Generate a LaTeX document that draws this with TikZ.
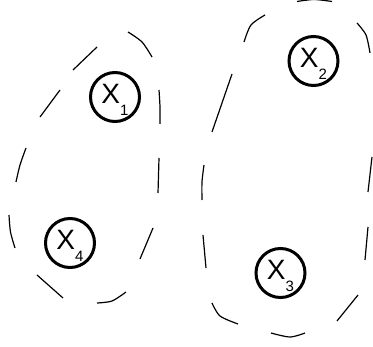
\documentclass[tikz,border=0pt]{standalone}
\usepackage{fontspec}
\setmainfont{Liberation Sans}
\newcommand\xsub[1]{\raisebox{-12pt}[0pt][0pt]{\fontsize{15}{15}\selectfont #1}}
\begin{document}
\begin{tikzpicture}[x=1pt,y=-1pt,
  var/.style={circle,draw,line width=3pt,minimum size=49pt,inner sep=0pt,
    text height=14pt,text depth=0pt,font=\fontsize{28}{28}\selectfont},
  blob/.style={line width=1.2pt}]
\useasboundingbox (0,0) rectangle (373,347);
\clip (0,0) rectangle (373,347);
% variables
\node[var] (x1) at (115,97) {X\xsub{1}};
\node[var] (x2) at (313.5,61) {X\xsub{2}};
\node[var] (x3) at (280.5,273) {X\xsub{3}};
\node[var] (x4) at (70,243) {X\xsub{4}};
% left dashed blob (X1, X4)
\draw[blob] (73,70) -- (97,47);
\draw[blob] plot[smooth] coordinates {(128,32) (142,42) (152,57)};
\draw[blob] (60,90) -- (40,117);
\draw[blob] plot[smooth] coordinates {(159,90) (160,107) (160,124)};
\draw[blob] plot[smooth] coordinates {(26,148) (20,165) (16,182)};
\draw[blob] (159,158) -- (158,193);
\draw[blob] plot[smooth] coordinates {(9,215) (10.5,232) (15,248)};
\draw[blob] (153,228) -- (140,259);
\draw[blob] (37,275) -- (63,298);
\draw[blob] plot[smooth] coordinates {(126,292) (112,301) (97,303)};
% right dashed blob (X2, X3)
\draw[blob] plot[smooth] coordinates {(297,1.5) (314,-0.5) (332,1.5)};
\draw[blob] plot[smooth] coordinates {(265,15) (251,25) (244,42)};
\draw[blob] plot[smooth] coordinates {(357,23) (366,35) (370,53)};
\draw[blob] (232,74) -- (212,132);
\draw[blob] (372,157) -- (368,192);
\draw[blob] plot[smooth] coordinates {(204,165) (202,182) (202,200)};
\draw[blob] (203,235) -- (206,268);
\draw[blob] (368,227) -- (365,260);
\draw[blob] (358,295) -- (337,321);
\draw[blob] plot[smooth] coordinates {(212,303) (220,316) (238,324)};
\draw[blob] plot[smooth] coordinates {(271,333) (290,337) (305,333)};
\end{tikzpicture}
\end{document}
